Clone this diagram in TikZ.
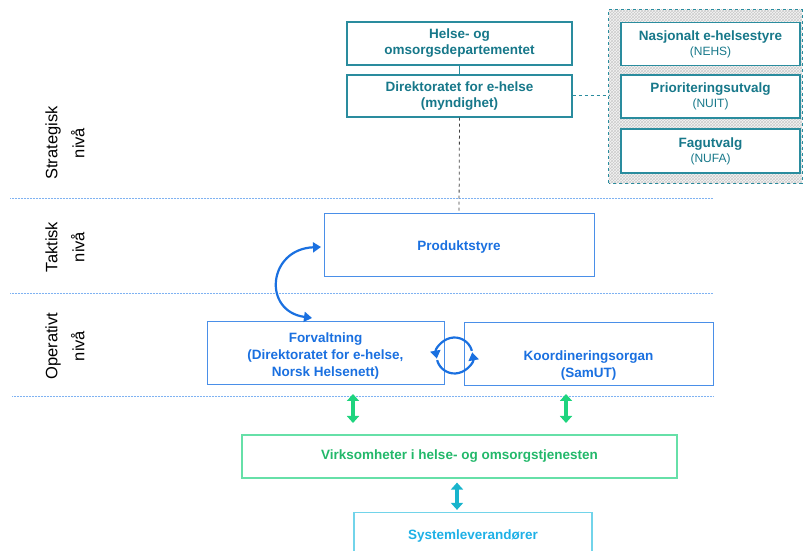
\documentclass[tikz,border=0pt]{standalone}
\usepackage{fontspec}
\setmainfont{Liberation Sans}
\usetikzlibrary{arrows.meta,patterns}
\definecolor{tealtxt}{HTML}{17788A}
\definecolor{tealln}{HTML}{2A8C9E}
\definecolor{bluetxt}{HTML}{1A70E0}
\definecolor{blueln}{HTML}{4A8FE8}
\definecolor{greentxt}{HTML}{22B86A}
\definecolor{greenln}{HTML}{66E0A8}
\definecolor{greenar}{HTML}{1ED47E}
\definecolor{cyanar}{HTML}{18B4CC}
\definecolor{skytxt}{HTML}{1EB0E6}
\definecolor{skyln}{HTML}{72D4EA}
\definecolor{dotln}{HTML}{7FB2F2}
\tikzset{
  x=1pt,y=1pt,
  topbox/.style={draw=tealln,line width=1.4pt,fill=white,minimum height=43pt,align=center,text=tealtxt,font=\fontsize{13.5}{16}\selectfont\bfseries,inner sep=0pt},
  bluebox/.style={draw=blueln,line width=1pt,fill=white,minimum height=63pt,align=center,text=bluetxt,font=\fontsize{13.5}{17}\selectfont\bfseries,inner sep=0pt,text depth=0pt},
  lvl/.style={rotate=90,align=center,font=\fontsize{16.5}{27}\selectfont},
  lvlline/.style={dotln,line width=1pt,dash pattern=on 1pt off 0.5pt},
  dbl/.style={line width=3.8pt,{Triangle[width=12pt,length=7pt]}-{Triangle[width=12pt,length=7pt]}},
  bigtip/.tip={Triangle[width=10pt,length=8pt]},
  circarr/.style={bluetxt,line width=2.2pt,-{Triangle[width=10pt,length=8pt]}},
}
\begin{document}
\begin{tikzpicture}
\useasboundingbox (0,0) rectangle (803,551);
\clip (0,0) rectangle (803,551);
% hatched group
\node[fill=gray!8,minimum width=193pt,minimum height=173pt,inner sep=0pt] (grp) at (705.5,454.5) {};
\fill[pattern=crosshatch,pattern color=gray!40] (grp.south west) rectangle (grp.north east);
\draw[tealln,dashed,line width=1pt] (grp.south west) rectangle (grp.north east);
\node[topbox,minimum width=179pt] (nehs) at (710.5,507) {Nasjonalt e-helsestyre\\[-1pt]{\fontsize{12}{14}\selectfont\mdseries (NEHS)}};
\node[topbox,minimum width=179pt] (nuit) at (710.5,454.5) {Prioriteringsutvalg\\[-1pt]{\fontsize{12}{14}\selectfont\mdseries (NUIT)}};
\node[topbox,minimum width=179pt,minimum height=44pt] (nufa) at (710.5,400) {Fagutvalg\\[-1pt]{\fontsize{12}{14}\selectfont\mdseries (NUFA)}};
% top boxes
\node[topbox,minimum width=225pt] (hod) at (459.5,507.5) {Helse- og\\omsorgsdepartementet};
\node[topbox,minimum width=225pt,minimum height=42pt] (dir) at (459.5,455) {Direktoratet for e-helse\\(myndighet)};
\draw[tealln,line width=1.4pt] (hod.south) -- (dir.north);
\draw[tealln,dashed,line width=1pt] (dir.east) -- (grp.west |- dir.east);
% level lines
\coordinate (l1a) at (10,352); \coordinate (l1b) at (713,352);
\coordinate (l2a) at (10,257); \coordinate (l2b) at (713,257);
\coordinate (l3a) at (12,154); \coordinate (l3b) at (713,154);
\draw[lvlline] (l1a) -- (l1b);
\draw[lvlline] (l2a) -- (l2b);
\draw[lvlline] (l3a) -- (l3b);
% level labels
\node[lvl] (strat) at (65,408) {Strategisk\\nivå};
\node[lvl] (takt) at (65,304) {Taktisk\\nivå};
\node[lvl] (oper) at (65,205) {Operativt\\nivå};
% tactical / operational
\node[bluebox,minimum width=270pt] (prod) at (459,305.5) {Produktstyre};
\draw[black!75,dashed,line width=0.8pt] (dir.south) -- (prod.north);
\node[bluebox,minimum width=237pt,text height=0pt] (forv) at (325.5,197.5) {\raisebox{-6pt}[0pt][0pt]{\parbox{230pt}{\centering Forvaltning\\(Direktoratet for e-helse,\\Norsk Helsenett)}}};
\node[bluebox,minimum width=249pt,text height=0pt] (koord) at (588.5,196.5) {\raisebox{-15pt}[0pt][0pt]{\parbox{240pt}{\centering Koordineringsorgan\\(SamUT)}}};
% curved arrow
\coordinate (cA) at (321,304);
\coordinate (cB) at (312,233);
\draw[bluetxt,line width=2.2pt,bigtip-bigtip] (cA) .. controls (268,302) and (262,240) .. (cB);
% circular arrows
\coordinate (cc) at (454.5,195.5);
\draw[circarr] ([shift={(15:18)}]cc) arc[start angle=15,end angle=190,radius=18];
\draw[circarr] ([shift={(195:18)}]cc) arc[start angle=195,end angle=370,radius=18];
% bottom
\node[draw=greenln,line width=1.2pt,minimum width=435pt,minimum height=43pt,text=greentxt,font=\fontsize{13.5}{16}\selectfont\bfseries] (virk) at (459.5,94.5) {Virksomheter i helse- og omsorgstjenesten};
\coordinate (g1t) at (353,157); \coordinate (g1b) at (353,128);
\coordinate (g2t) at (566,157); \coordinate (g2b) at (566,128);
\draw[dbl,greenar] (g1t) -- (g1b);
\draw[dbl,greenar] (g2t) -- (g2b);
\node[draw=skyln,line width=1.2pt,minimum width=238pt,minimum height=47pt,text=skytxt,font=\fontsize{13.5}{16}\selectfont\bfseries] (sys) at (473,15) {Systemleverandører};
\draw[dbl,cyanar] ([yshift=-4pt]virk.south -| 457,0) -- ([yshift=2pt]sys.north -| 457,0);
\end{tikzpicture}
\end{document}
